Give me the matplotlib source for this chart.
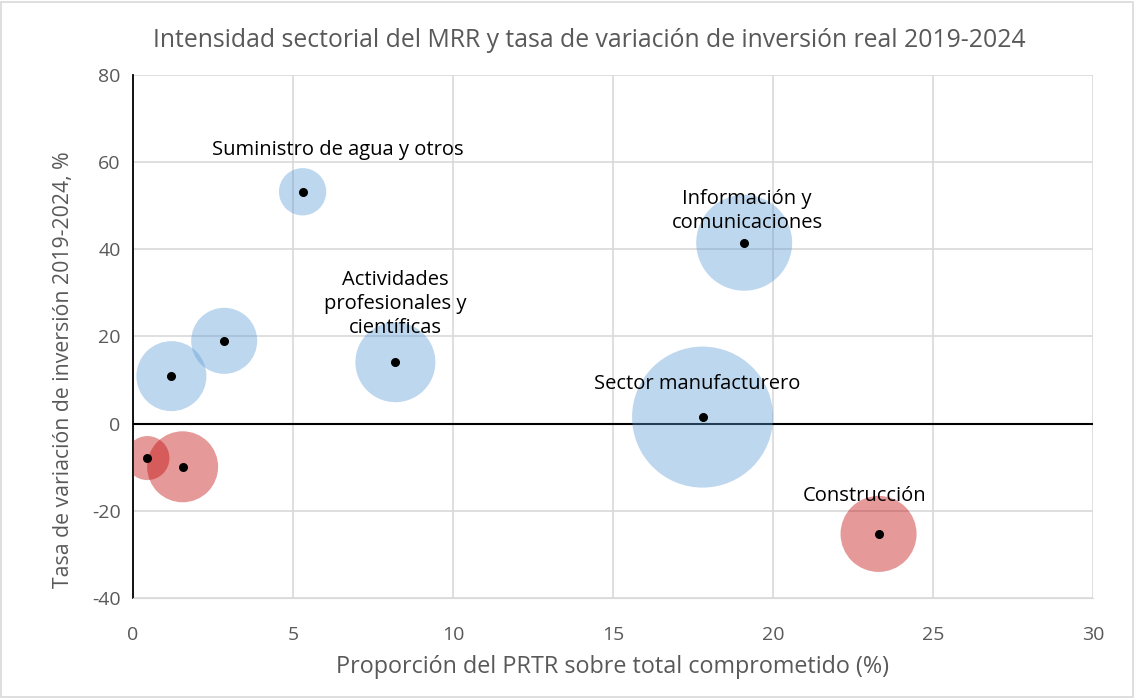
"""Bubble chart: intensidad sectorial del MRR vs tasa de variación de inversión."""

import matplotlib.pyplot as plt
from matplotlib.patches import Rectangle

plt.rcParams['font.family'] = ['Open Sans', 'DejaVu Sans']
plt.rcParams['axes.unicode_minus'] = False

# Data
sectores = ['Suministro de agua y otros', 'Información y\ncomunicaciones',
            'Actividades\nprofesionales y\ncientíficas', 'Sector manufacturero',
            'Construcción', '', '', '', '']
proporcion_prtr = [5.3, 19.1, 8.2, 17.8, 23.3, 1.2, 2.85, 0.45, 1.55]
tasa_inversion = [53.2, 41.5, 14.1, 1.5, -25.3, 10.9, 19.0, -7.9, -9.9]
tamano = [11.2, 46.0, 32.0, 99.4, 28.9, 24.5, 21.8, 9.7, 25.2]
positivo = [True, True, True, True, False, True, True, False, False]

# label offsets (points) relative to the bubble centre
label_offsets = [(25, 30), (2, 23), (0, 42), (-4, 24), (-10, 27),
                 (0, 0), (0, 0), (0, 0), (0, 0)]

GREY = '#595959'


def main():
    fig = plt.figure(figsize=(11.34, 6.98), dpi=100)
    ax = fig.add_axes([0.1173, 0.1433, 0.8465, 0.7493])

    colors = ['#5B9BD5' if p else '#C00000' for p in positivo]
    ax.scatter(proporcion_prtr, tasa_inversion, s=[t * 103.7 for t in tamano],
               c=colors, alpha=0.4, linewidths=0, zorder=3)
    ax.scatter(proporcion_prtr, tasa_inversion, s=30, color='black', zorder=4)

    for name, x, y, off in zip(sectores, proporcion_prtr, tasa_inversion, label_offsets):
        if name:
            ax.annotate(name, (x, y), xytext=off, textcoords='offset points',
                        ha='center', va='center', fontsize=14.5, color='black',
                        linespacing=1.25, zorder=5)

    ax.axhline(0, color='black', linewidth=1.5, zorder=2)

    ax.set_xlim(0, 30)
    ax.set_ylim(-40, 80)
    ax.set_xticks(range(0, 31, 5))
    ax.set_yticks(range(-40, 81, 20))
    ax.grid(True, color='#D9D9D9', linewidth=1.2, zorder=0)
    ax.set_axisbelow(True)
    for side in ['top', 'right']:
        ax.spines[side].set_visible(False)
    ax.spines['bottom'].set_color('#D9D9D9')
    ax.spines['left'].set_color('black')
    ax.spines['left'].set_linewidth(1.3)
    ax.tick_params(axis='both', length=0, labelsize=14, labelcolor=GREY)
    ax.tick_params(axis='x', pad=20)
    ax.tick_params(axis='y', pad=9)

    ax.set_xlabel('Proporción del PRTR sobre total comprometido (%)',
                  fontsize=16.8, color=GREY, labelpad=8)
    ax.set_ylabel('Tasa de variación de inversión 2019-2024, %',
                  fontsize=15.3, color=GREY)
    ax.yaxis.set_label_coords(-0.062, 0.436)
    fig.text(0.52, 0.942, 'Intensidad sectorial del MRR y tasa de variación de inversión real 2019-2024',
             ha='center', va='center', fontsize=17.8, color=GREY)

    fig.patches.append(Rectangle((0.001, 0.001), 0.998, 0.996, transform=fig.transFigure,
                                 fill=False, edgecolor='#D9D9D9', linewidth=1.2))

    fig.savefig('out.png', dpi=100)


if __name__ == '__main__':
    main()
